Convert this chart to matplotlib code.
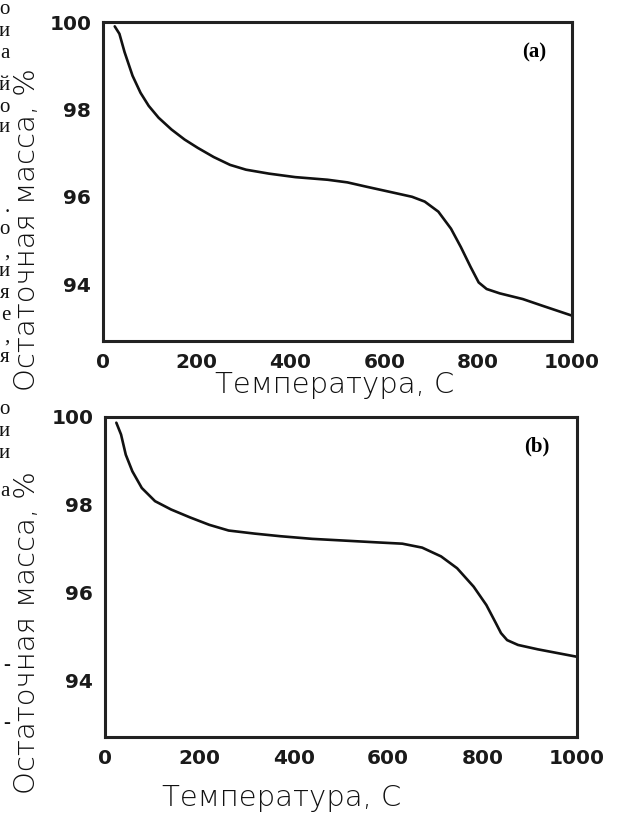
import matplotlib
matplotlib.use("Agg")
import matplotlib.pyplot as plt

# TGA curves
temp_a = [25, 35, 46, 63, 80, 97.5, 118.5, 146, 174, 202, 236, 271, 305, 354, 410, 479, 521, 562,
          617, 659, 686, 715, 742, 763, 784, 801, 818, 846, 895, 936, 1000]
mass_a = [99.9, 99.73, 99.31, 98.77, 98.38, 98.08, 97.81, 97.54, 97.31, 97.12, 96.91, 96.73, 96.62,
          96.53, 96.45, 96.39, 96.33, 96.23, 96.10, 96.0, 95.89, 95.66, 95.27, 94.85, 94.39, 94.04,
          93.89, 93.79, 93.66, 93.51, 93.28]

temp_b = [24, 34, 44, 58, 78, 106, 140, 180, 221, 262, 317, 372, 439, 508, 576, 630, 672, 712, 746,
          781, 808, 828, 839, 852, 875, 917, 1000]
mass_b = [99.87, 99.6, 99.14, 98.76, 98.38, 98.08, 97.89, 97.71, 97.54, 97.41, 97.34, 97.28, 97.22,
          97.18, 97.14, 97.11, 97.02, 96.82, 96.55, 96.13, 95.71, 95.30, 95.07, 94.91, 94.80, 94.70,
          94.53]

xticks = [0, 200, 400, 600, 800, 1000]
yticks = [94, 96, 98, 100]
panel_names = ["(a)", "(b)"]
xlabel = "Температура, С"
ylabel = "Остаточная масса, %"

# cut-off letters of the neighbouring page text at the left edge
side_letters = ["о", "и", "а", "й", "о", "и", ".", "о", ",", "и", "я", "е", ",", "я",
                "о", "и", "и", "а", "-", "-"]
side_y = [10, 32, 53, 85, 107, 128, 207, 230, 252, 272, 293, 315, 337, 357,
          410, 432, 453, 492, 665, 723]

W, H = 622, 814
fig = plt.figure(figsize=(W / 100, H / 100), dpi=100)

boxes = [(103, 22, 572, 341), (105, 417, 577, 737)]
curves = [(temp_a, mass_a), (temp_b, mass_b)]
name_pos = [(534, 52), (537, 446)]
xlab_pos = [(335, 385), (282, 798)]
ylab_pos = [(27, 230), (27, 633)]

for i in range(2):
    l, t, r, b = boxes[i]
    ax = fig.add_axes([l / W, 1 - b / H, (r - l) / W, (b - t) / H])
    x, y = curves[i]
    ax.plot(x, y, color="#111111", lw=1.9, solid_joinstyle="round", solid_capstyle="round")
    ax.set_xlim(0, 1000)
    ax.set_ylim(92.7, 100)
    ax.set_xticks(xticks)
    ax.set_yticks(yticks)
    ax.tick_params(length=0, pad=8.5, labelsize=14.5)
    for lab in ax.get_xticklabels() + ax.get_yticklabels():
        lab.set_fontweight("bold")
        lab.set_color("#1a1a1a")
    for sp in ax.spines.values():
        sp.set_linewidth(2.2)
        sp.set_color("#222222")
    fig.text(name_pos[i][0] / W, 1 - name_pos[i][1] / H, panel_names[i], ha="center", va="center",
             family="Liberation Serif", fontweight="bold", fontsize=15)
    fig.text(xlab_pos[i][0] / W, 1 - xlab_pos[i][1] / H, xlabel, ha="center", va="center",
             fontsize=21, fontweight="light", color="#111111")
    fig.text(ylab_pos[i][0] / W, 1 - ylab_pos[i][1] / H, ylabel, ha="center", va="center",
             rotation=90, fontsize=21, fontweight="light", color="#111111")

for ch, yy in zip(side_letters, side_y):
    fig.text(10 / W, 1 - yy / H, ch, ha="right", va="center", family="Liberation Serif",
             fontsize=15, color="#111111")

fig.savefig("out.png", dpi=100)
